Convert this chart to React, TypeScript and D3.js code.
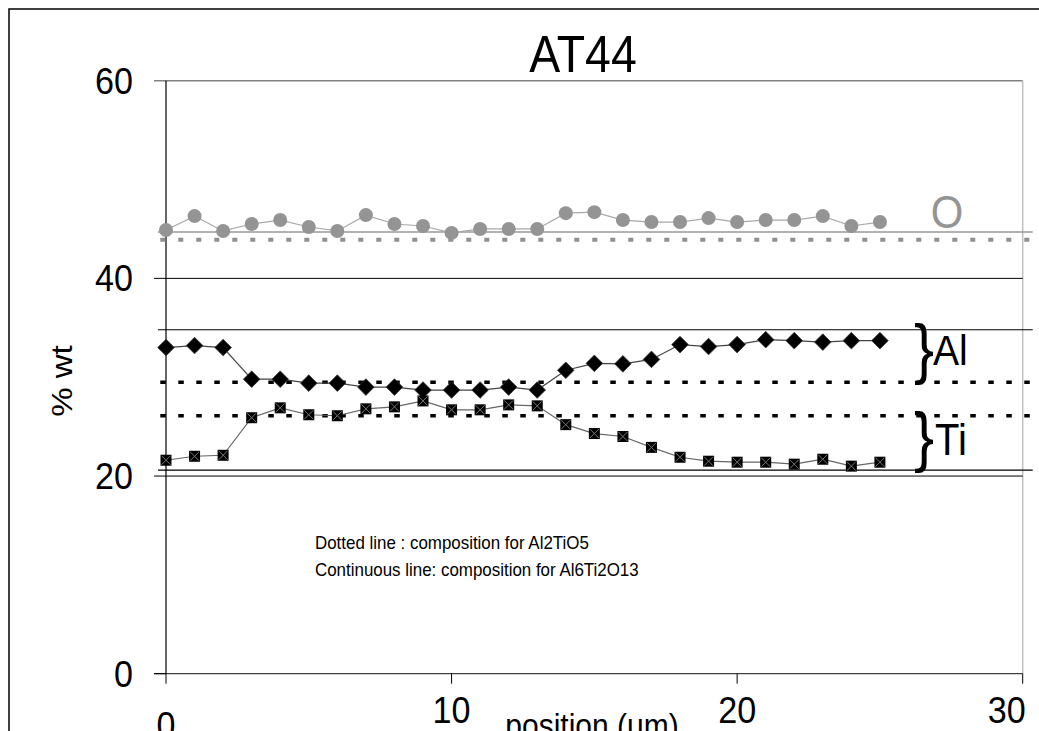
import React from "react";
import * as d3 from "d3";

const positions = [0, 1, 2, 3, 4, 5, 6, 7, 8, 9, 10, 11, 12, 13, 14, 15, 16, 17, 18, 19, 20, 21, 22, 23, 24, 25];
const oValues = [44.9, 46.3, 44.8, 45.5, 45.9, 45.2, 44.8, 46.4, 45.5, 45.3, 44.6, 45.0, 45.0, 45.0, 46.6, 46.7, 45.9, 45.7, 45.7, 46.1, 45.7, 45.9, 45.9, 46.3, 45.3, 45.7];
const alValues = [33.0, 33.2, 33.0, 29.8, 29.8, 29.4, 29.4, 29.0, 29.0, 28.7, 28.7, 28.7, 29.0, 28.7, 30.7, 31.4, 31.35, 31.8, 33.3, 33.1, 33.3, 33.8, 33.7, 33.55, 33.7, 33.7];
const tiValues = [21.6, 22.0, 22.1, 25.9, 26.9, 26.2, 26.1, 26.8, 27.0, 27.6, 26.7, 26.7, 27.2, 27.1, 25.2, 24.3, 24.0, 22.9, 21.9, 21.5, 21.4, 21.4, 21.2, 21.7, 21.0, 21.4];

// composition references
const dottedAl2TiO5 = { O: 43.9, Al: 29.5, Ti: 26.1 };
const continuousAl6Ti2O13 = { O: 44.7, Al: 34.8, Ti: 20.6 };

const yTicks = [0, 20, 40, 60];
const xTicks = [0, 10, 20, 30];
const gridValues = [20, 40];

const FONT = "'Liberation Sans', Arial, sans-serif";
const SX = 0.91;

export default function App() {
  const x = d3.scaleLinear().domain([0, 30]).range([166, 1022.7]);
  const y = d3.scaleLinear().domain([0, 60]).range([673.7, 80.7]);
  const line = d3
    .line<number>()
    .x((_, i) => x(positions[i]))
    .y((d) => y(d));

  const refX0 = x(-0.28);
  const refX1 = x(30.35);

  const txt = (
    s: string,
    px: number,
    py: number,
    size: number,
    anchor: string = "middle",
    fill: string = "#000"
  ) => (
    <text
      key={s + px + py}
      transform={`translate(${px},${py}) scale(${SX},1)`}
      fontSize={size}
      fontFamily={FONT}
      textAnchor={anchor}
      fill={fill}
    >
      {s}
    </text>
  );

  return (
    <svg
      width={1039}
      height={731}
      style={{ position: "absolute", left: 0, top: 0, background: "#fff", overflow: "hidden" }}
    >
      <rect x={9} y={9} width={1200} height={900} fill="#fff" stroke="#000" strokeWidth={1.5} />

      {/* plot borders */}
      <line x1={x(0) - 12} x2={x(30)} y1={y(60)} y2={y(60)} stroke="#808080" strokeWidth={1.5} />
      <line x1={x(30)} x2={x(30)} y1={y(60)} y2={y(0)} stroke="#c0c0c0" strokeWidth={1.5} />
      {gridValues.map((g) => (
        <line key={"g" + g} x1={x(0) - 12} x2={x(30)} y1={y(g)} y2={y(g)} stroke="#000" strokeWidth={1} />
      ))}
      <line x1={x(0) - 12} x2={x(30)} y1={y(0)} y2={y(0)} stroke="#404040" strokeWidth={1.2} />
      <line x1={x(0) - 12} x2={x(0)} y1={y(0)} y2={y(0)} stroke="#000" strokeWidth={1} />
      <line x1={x(0)} x2={x(0)} y1={y(60)} y2={y(0)} stroke="#000" strokeWidth={1.2} />
      {xTicks.map((t) => (
        <line key={"xt" + t} x1={x(t)} x2={x(t)} y1={y(0)} y2={y(0) + 10} stroke="#000" strokeWidth={1} />
      ))}

      {/* reference lines */}
      {(["Al", "Ti"] as const).map((k) => (
        <line
          key={"c" + k}
          x1={refX0}
          x2={refX1}
          y1={y(continuousAl6Ti2O13[k])}
          y2={y(continuousAl6Ti2O13[k])}
          stroke="#000"
          strokeWidth={1.2}
        />
      ))}
      <line
        x1={refX0}
        x2={refX1}
        y1={y(continuousAl6Ti2O13.O)}
        y2={y(continuousAl6Ti2O13.O)}
        stroke="#999"
        strokeWidth={1.5}
      />
      {(["Al", "Ti"] as const).map((k) => (
        <line
          key={"d" + k}
          x1={x(-0.2)}
          x2={refX1}
          y1={y(dottedAl2TiO5[k])}
          y2={y(dottedAl2TiO5[k])}
          stroke="#000"
          strokeWidth={3.5}
          strokeDasharray="5.5 12.5"
        />
      ))}
      <line
        x1={x(-0.2)}
        x2={refX1}
        y1={y(dottedAl2TiO5.O)}
        y2={y(dottedAl2TiO5.O)}
        stroke="#909090"
        strokeWidth={4}
        strokeDasharray="5 13"
      />

      {/* series lines */}
      <path d={line(oValues) || ""} fill="none" stroke="#a8a8a8" strokeWidth={1.2} />
      <path d={line(alValues) || ""} fill="none" stroke="#444" strokeWidth={1.2} />
      <path d={line(tiValues) || ""} fill="none" stroke="#666" strokeWidth={1.2} />

      {/* markers */}
      {oValues.map((v, i) => (
        <circle key={"o" + i} cx={x(positions[i])} cy={y(v)} r={7} fill="#949494" />
      ))}
      {alValues.map((v, i) => {
        const cx = x(positions[i]);
        const cy = y(v);
        const s = 8.3;
        return (
          <path
            key={"a" + i}
            d={`M${cx},${cy - s}L${cx + s},${cy}L${cx},${cy + s}L${cx - s},${cy}Z`}
            fill="#000"
            stroke="#333"
            strokeWidth={0.8}
          />
        );
      })}
      {tiValues.map((v, i) => {
        const cx = x(positions[i]);
        const cy = y(v);
        const h = 5.5;
        return (
          <g key={"t" + i}>
            <rect x={cx - h} y={cy - h} width={2 * h} height={2 * h} fill="#000" />
            <path
              d={`M${cx - h + 1},${cy - h + 1}L${cx + h - 1},${cy + h - 1}M${cx + h - 1},${cy - h + 1}L${cx - h + 1},${cy + h - 1}`}
              stroke="#777"
              strokeWidth={1}
            />
          </g>
        );
      })}

      {/* tick labels */}
      {yTicks.map((t) => txt(String(t), 133, y(t) + 13, 37.5, "end"))}
      {xTicks.map((t, i) => {
        const px = i === xTicks.length - 1 ? x(t) - 16 : x(t);
        const py = i === 0 ? 738 : 723;
        return txt(String(t), px, py, 37.5, "middle");
      })}

      {/* titles */}
      {txt("AT44", 583, 71.7, 51, "middle")}
      {txt("position (um)", 592, 737, 33, "middle")}
      <text
        transform={`translate(72,381) rotate(-90) scale(1,${SX})`}
        fontSize={33}
        fontFamily={FONT}
        textAnchor="middle"
        fill="#000"
      >
        % wt
      </text>

      {/* element labels */}
      {txt("O", 947, 228, 46, "middle", "#949494")}
      {txt("}", 914, 371, 66, "start")}
      {txt("Al", 933, 365, 43, "start")}
      {txt("}", 914, 459, 66, "start")}
      {txt("Ti", 935, 455, 44, "start")}

      {/* annotation */}
      {txt("Dotted line : composition for Al2TiO5", 315, 549, 18.6, "start")}
      {txt("Continuous line: composition for Al6Ti2O13", 315, 576, 18.6, "start")}
    </svg>
  );
}
